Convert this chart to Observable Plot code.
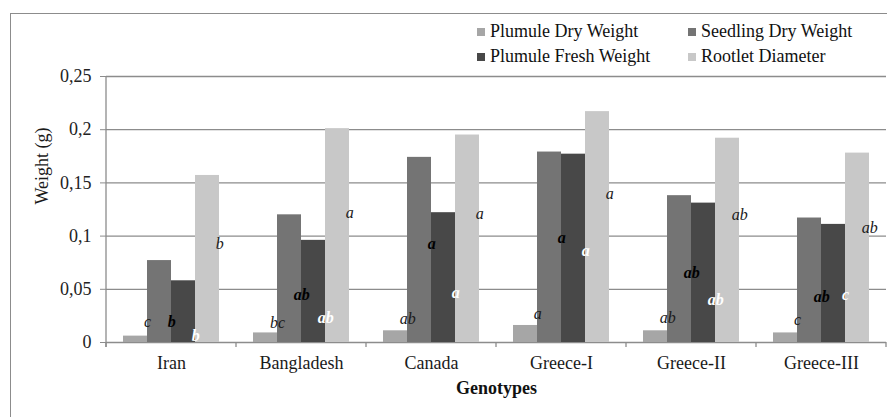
<!DOCTYPE html>
<html><head><meta charset="utf-8">
<script src="https://cdn.jsdelivr.net/npm/d3@7"></script>
<script src="https://cdn.jsdelivr.net/npm/@observablehq/plot@0.6"></script>
<style>
body{margin:0;background:#fff;}
#wrap{position:relative;width:893px;height:417px;overflow:hidden;font-family:"Liberation Serif";}
#chart svg{display:block;}
#chart svg text{font-family:"Liberation Serif";}
#border{position:absolute;left:10px;top:13px;right:6px;bottom:-5px;border-left:1.5px solid #8c8c8c;border-top:1.5px solid #8c8c8c;pointer-events:none;}
#legend{position:absolute;left:477px;top:19px;display:grid;grid-template-columns:211px auto;grid-auto-rows:25px;font-family:"Liberation Serif";font-size:18px;color:#111;}
.item{display:flex;align-items:center;white-space:nowrap;font-family:"Liberation Serif";}
.sw{width:8px;height:8px;margin-right:5px;flex:none;}
</style></head><body>
<div id="wrap"><div id="chart"></div><div id="border"></div><div id="legend"></div></div>
<script>
// ---- data ----
const genotypes = ["Iran", "Bangladesh", "Canada", "Greece-I", "Greece-II", "Greece-III"];
const series = ["Plumule Dry Weight", "Seedling Dry Weight", "Plumule Fresh Weight", "Rootlet Diameter"];
const plumuleDry      = [0.006, 0.009, 0.011, 0.016, 0.011, 0.009];
const seedlingDry     = [0.077, 0.120, 0.174, 0.179, 0.138, 0.117];
const plumuleFresh    = [0.058, 0.096, 0.122, 0.177, 0.131, 0.111];
const rootletDiameter = [0.157, 0.201, 0.195, 0.217, 0.192, 0.178];
// significance letters per series
const plumuleDryLetters   = ["c", "bc", "ab", "a", "ab", "c"];
const seedlingDryLetters  = ["b", "ab", "a", "a", "ab", "ab"];
const plumuleFreshLetters = ["b", "ab", "a", "a", "ab", "c"];
const rootletLetters      = ["b", "a", "a", "a", "ab", "ab"];
// height (in g, on the value axis) where each letter sits
const plumuleDryLabelAt   = [0.019, 0.018, 0.0225, 0.027, 0.023, 0.021];
const seedlingDryLabelAt  = [0.019, 0.045, 0.093, 0.0985, 0.065, 0.043];
const plumuleFreshLabelAt = [0.0066, 0.023, 0.047, 0.086, 0.040, 0.045];
const rootletLabelAt      = [0.093, 0.122, 0.121, 0.140, 0.120, 0.108];
const yTicks = [0, 0.05, 0.1, 0.15, 0.2, 0.25];

// ---- styles ----
const FONT = "Liberation Serif";
const colors = ["#a6a6a6", "#747474", "#484848", "#c8c8c8"];
const labelStyle = [
  {fill: "#1a1a1a", fontWeight: "normal"},
  {fill: "#000", fontWeight: "bold"},
  {fill: "#fff", fontWeight: "bold"},
  {fill: "#1a1a1a", fontWeight: "normal"}
];
const W = 893, H = 417, mL = 106, mR = 7, mT = 76, mB = 75;
const pad = 0.675;
const facetW = (W - mL - mR) / genotypes.length;
const barW = facetW / (series.length + 2 * pad);

const valueSets = [plumuleDry, seedlingDry, plumuleFresh, rootletDiameter];
const letterSets = [plumuleDryLetters, seedlingDryLetters, plumuleFreshLetters, rootletLetters];
const labelSets = [plumuleDryLabelAt, seedlingDryLabelAt, plumuleFreshLabelAt, rootletLabelAt];
const rows = genotypes.flatMap((g, i) => series.map((s, j) => ({
  genotype: g, series: s, value: valueSets[j][i], letter: letterSets[j][i], labelAt: labelSets[j][i]
})));

const gridColor = "#8c8c8c";

const axisLines = Plot.frame({
  facet: "super",
  render: (index, scales, values, dims) => {
    const g = d3.create("svg:g").attr("stroke", gridColor).attr("stroke-width", 1.3);
    const base = dims.height - dims.marginBottom;
    g.append("line").attr("x1", dims.marginLeft).attr("x2", dims.marginLeft)
      .attr("y1", dims.marginTop).attr("y2", base + 5);
    const edges = genotypes.map((gn, i) => scales.fx ? scales.fx(gn) : dims.marginLeft + i * facetW)
      .concat(dims.width - dims.marginRight);
    for (const e of edges) {
      g.append("line").attr("x1", e).attr("x2", e).attr("y1", base).attr("y2", base + 5);
    }
    return g.node();
  }
});

const chart = Plot.plot({
  width: W, height: H,
  marginLeft: mL, marginRight: mR, marginTop: mT, marginBottom: mB,
  style: {fontFamily: FONT, fontSize: "18px", background: "#fff", color: "#222"},
  fx: {domain: genotypes, padding: 0, label: null},
  x: {domain: series, paddingInner: 0, paddingOuter: pad, axis: null},
  y: {domain: [0, 0.25], axis: null},
  color: {domain: series, range: colors},
  marks: [
    Plot.gridY(yTicks, {stroke: gridColor, strokeOpacity: 1, strokeWidth: 1.3}),
    Plot.barY(rows, {fx: "genotype", x: "series", y: "value", fill: "series"}),
    axisLines,
    Plot.axisY(yTicks, {tickSize: 6, tickPadding: 9, stroke: gridColor, fill: "#222", fontSize: 18, fontFamily: FONT,
      tickFormat: d => String(d).replace(".", ","), label: null}),
    Plot.axisFx({anchor: "bottom", tickSize: 0, tickPadding: 14, fill: "#1a1a1a", fontSize: 18, fontFamily: FONT, label: null}),
    ...series.map((s, j) => Plot.text(rows.filter(d => d.series === s), {
      fx: "genotype", x: "series", y: "labelAt", text: "letter", dx: barW / 2,
      fontFamily: FONT, fontStyle: "italic", fontSize: 16, fill: labelStyle[j].fill, fontWeight: labelStyle[j].fontWeight
    })),
    Plot.text(["Genotypes"], {facet: "super", frameAnchor: "bottom", dy: 51, fontFamily: FONT, fontWeight: "bold", fontSize: 18, fill: "#111"}),
    Plot.text(["Weight (g)"], {facet: "super", frameAnchor: "left", rotate: -90, dx: -64.5, dy: -5, fontFamily: FONT, fontSize: 18, fill: "#1a1a1a"})
  ]
});
document.getElementById("chart").appendChild(chart);

const legend = document.getElementById("legend");
series.forEach((s, j) => {
  const it = document.createElement("div");
  it.className = "item";
  const sw = document.createElement("span");
  sw.className = "sw";
  sw.style.background = colors[j];
  const tx = document.createElement("span");
  tx.textContent = s;
  it.appendChild(sw); it.appendChild(tx);
  legend.appendChild(it);
});
</script></body></html>
